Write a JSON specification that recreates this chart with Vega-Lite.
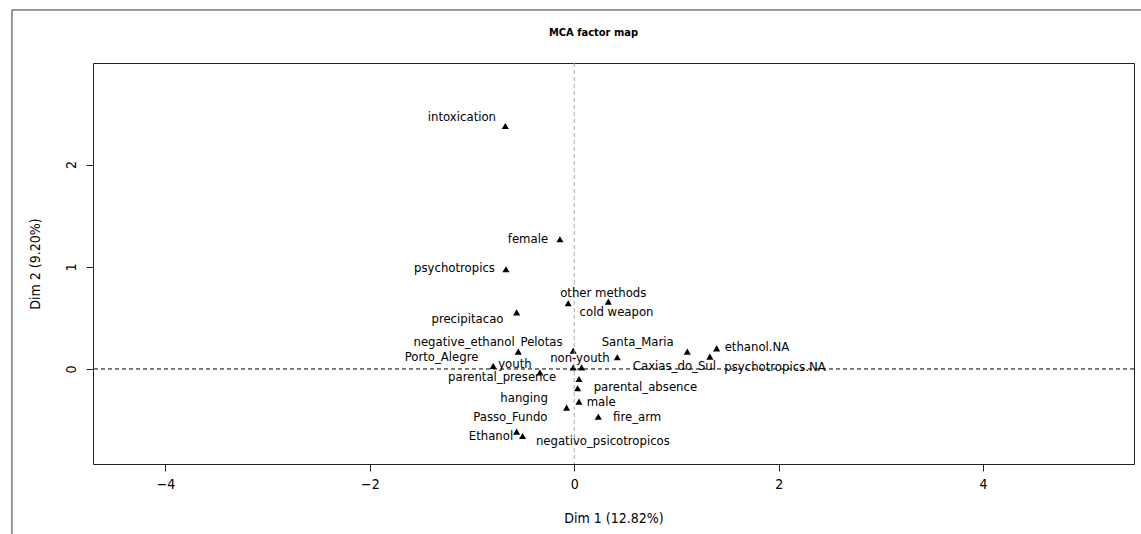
{
  "$schema": "https://vega.github.io/schema/vega-lite/v6.json",
  "width": 1041,
  "height": 401,
  "autosize": {"type": "none"},
  "padding": {"left": 93, "top": 63, "right": 7, "bottom": 70},
  "background": "white",
  "title": {
    "text": "MCA factor map",
    "fontSize": 11,
    "fontWeight": "bold",
    "font": "DejaVu Sans Condensed, sans-serif",
    "color": "black",
    "anchor": "middle",
    "offset": -29,
    "dx": -20
  },
  "config": {
    "view": {"stroke": "#222", "strokeWidth": 1},
    "font": "DejaVu Sans Condensed, sans-serif",
    "axisX": {
      "grid": false, "domain": false, "tickCount": 5,
      "tickSize": 7, "tickColor": "#222", "labelFontSize": 14, "labelColor": "black", "labelPadding": 6,
      "titleFontSize": 14, "titleFontWeight": "normal", "titleColor": "black", "titlePadding": 20,
      "labelExpr": "replace(datum.label, '-', '\u2212')"
    },
    "axisY": {
      "grid": false, "domain": false, "tickCount": 3,
      "tickSize": 7, "tickColor": "#222", "labelFontSize": 14, "labelColor": "black", "labelPadding": 8,
      "labelAngle": -90, "labelAlign": "center", "labelBaseline": "bottom",
      "titleFontSize": 14, "titleFontWeight": "normal", "titleColor": "black", "titlePadding": 22
    }
  },
  "data": {
    "values": [
      {"name": "intoxication", "x": -0.675, "y": 2.378, "lx": -1.099, "ly": 2.463},
      {"name": "female", "x": -0.14, "y": 1.269, "lx": -0.453, "ly": 1.269},
      {"name": "psychotropics", "x": -0.668, "y": 0.976, "lx": -1.172, "ly": 0.991},
      {"name": "other methods", "x": -0.059, "y": 0.643, "lx": 0.284, "ly": 0.747},
      {"name": "cold weapon", "x": 0.333, "y": 0.659, "lx": 0.414, "ly": 0.561},
      {"name": "precipitacao", "x": -0.564, "y": 0.554, "lx": -1.045, "ly": 0.486},
      {"name": "negative_ethanol", "x": -0.548, "y": 0.17, "lx": -1.078, "ly": 0.261},
      {"name": "Pelotas", "x": -0.01, "y": 0.179, "lx": -0.32, "ly": 0.261},
      {"name": "Santa_Maria", "x": 1.106, "y": 0.17, "lx": 0.621, "ly": 0.261},
      {"name": "non-youth", "x": 0.421, "y": 0.114, "lx": 0.055, "ly": 0.111},
      {"name": "ethanol.NA", "x": 1.393, "y": 0.202, "lx": 1.788, "ly": 0.215},
      {"name": "psychotropics.NA", "x": 1.327, "y": 0.121, "lx": 1.964, "ly": 0.02},
      {"name": "Caxias_do_Sul", "x": 0.072, "y": 0.016, "lx": 0.98, "ly": 0.029},
      {"name": "Porto_Alegre", "x": -0.793, "y": 0.029, "lx": -1.298, "ly": 0.121},
      {"name": "youth", "x": -0.01, "y": 0.016, "lx": -0.581, "ly": 0.046},
      {"name": "parental_presence", "x": -0.336, "y": -0.033, "lx": -0.706, "ly": -0.075},
      {"name": "parental_absence", "x": 0.046, "y": -0.098, "lx": 0.696, "ly": -0.173},
      {"name": "hanging", "x": 0.033, "y": -0.189, "lx": -0.491, "ly": -0.28},
      {"name": "male", "x": 0.046, "y": -0.32, "lx": 0.263, "ly": -0.32},
      {"name": "Passo_Fundo", "x": -0.075, "y": -0.378, "lx": -0.625, "ly": -0.466},
      {"name": "fire_arm", "x": 0.235, "y": -0.466, "lx": 0.615, "ly": -0.466},
      {"name": "Ethanol", "x": -0.564, "y": -0.613, "lx": -0.815, "ly": -0.656},
      {"name": "negativo_psicotropicos", "x": -0.506, "y": -0.656, "lx": 0.28, "ly": -0.701}
    ]
  },
  "layer": [
    {
      "mark": {"type": "point", "shape": "triangle-up", "filled": true, "color": "black", "opacity": 1, "size": 50},
      "encoding": {
        "x": {"field": "x", "type": "quantitative", "title": "Dim 1 (12.82%)", "scale": {"domain": [-4.709, 5.477], "nice": false, "zero": false}},
        "y": {"field": "y", "type": "quantitative", "title": "Dim 2 (9.20%)", "scale": {"domain": [-0.93, 2.994], "nice": false, "zero": false}}
      }
    },
    {
      "data": {"values": [{"ref": 0}]},
      "mark": {"type": "rule", "color": "black", "strokeWidth": 1, "strokeDash": [4, 3]},
      "encoding": {
        "y": {"field": "ref", "type": "quantitative", "title": "Dim 2 (9.20%)", "scale": {"domain": [-0.93, 2.994], "nice": false, "zero": false}}
      }
    },
    {
      "data": {"values": [{"ref": 0}]},
      "mark": {"type": "rule", "color": "#aaaaaa", "strokeWidth": 1, "strokeDash": [4, 3]},
      "encoding": {
        "x": {"field": "ref", "type": "quantitative", "title": "Dim 1 (12.82%)", "scale": {"domain": [-4.709, 5.477], "nice": false, "zero": false}}
      }
    },
    {
      "mark": {"type": "text", "fontSize": 13, "color": "black", "align": "center", "baseline": "middle"},
      "encoding": {
        "x": {"field": "lx", "type": "quantitative", "title": "Dim 1 (12.82%)", "scale": {"domain": [-4.709, 5.477], "nice": false, "zero": false}},
        "y": {"field": "ly", "type": "quantitative", "title": "Dim 2 (9.20%)", "scale": {"domain": [-0.93, 2.994], "nice": false, "zero": false}},
        "text": {"field": "name"}
      }
    },
    {
      "data": {"values": [{"frame": 1}]},
      "mark": {"type": "rect", "filled": false, "color": "#333", "strokeWidth": 1, "clip": false},
      "encoding": {
        "x": {"datum": -5.502, "type": "quantitative", "title": "Dim 1 (12.82%)", "scale": {"domain": [-4.709, 5.477], "nice": false, "zero": false}},
        "x2": {"datum": 7},
        "y": {"datum": 3.513, "type": "quantitative", "title": "Dim 2 (9.20%)", "scale": {"domain": [-0.93, 2.994], "nice": false, "zero": false}},
        "y2": {"datum": -2}
      }
    }
  ]
}
